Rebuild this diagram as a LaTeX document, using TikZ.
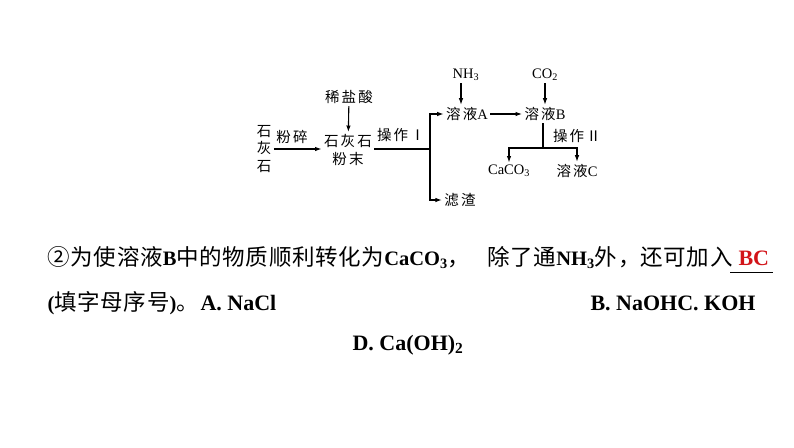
\documentclass[tikz,border=0pt]{standalone}
\usepackage{fontspec}
\setmainfont{Liberation Serif}
\newfontfamily\cjk[LetterSpace=3]{Noto Sans CJK SC}
\newfontfamily\cjksp[LetterSpace=15]{Noto Sans CJK SC}
\usepackage{xcolor}
\usepackage{tikz}
\usetikzlibrary{arrows.meta,positioning}
\definecolor{ansred}{RGB}{210,20,25}
\newcommand\latn[1]{{\rmfamily #1}}
\newcommand\lb[1]{{\fontsize{20.5}{26}\selectfont\rmfamily\bfseries #1}}

\begin{document}
\begin{tikzpicture}[x=1pt, y=-1pt, line width=1.1pt,
                    >={Latex[length=6.5pt,width=4.5pt]},
                    lbl/.style={font=\fontsize{14.5}{17.5}\selectfont\cjksp,
                    inner sep=2pt, align=center},
                    txt/.style={font=\fontsize{22.5}{26}\selectfont\cjk,
                    inner sep=0pt, anchor=base west},
                    ltn/.style={font=\fontsize{22}{26}\selectfont\bfseries,
                    inner sep=0pt, anchor=base west}]
\useasboundingbox (0,0) rectangle (794,447);

% flow chart
\node[lbl] (shi) at (264,149) {石\\灰\\石};
\node[lbl] (fenmo) at (348,150) {石灰石\\粉末};
\node[lbl] (xys) at (349,97) {稀盐酸};
\node[lbl] (fensui) at (292,137) {粉碎};
\node[lbl] (op1) at (401,135) {操作Ⅰ};
\node[lbl] (rongA) at (467,114) {溶液\latn{A}};
\node[lbl] (rongB) at (545,114) {溶液\latn{B}};
\node[lbl] (nh3) at (466,75) {\latn{NH\textsubscript{3}}};
\node[lbl] (co2) at (545,75) {\latn{CO\textsubscript{2}}};
\node[lbl] (op2) at (577,136) {操作Ⅱ};
\node[lbl] (caco3) at (509,171) {\latn{CaCO\textsubscript{3}}};
\node[lbl] (rongC) at (577,171) {溶液\latn{C}};
\node[lbl] (lvzha) at (460,200) {滤渣};
\coordinate (br1) at (430,149);
\coordinate (br2) at (543,148);

\draw[->] (shi.east) -- (shi.east -| fenmo.west);
\draw[->] (xys) -- (fenmo);
\draw (fenmo.east |- br1) -- (br1);
\draw[->] (br1) |- (rongA);
\draw[->] (br1) |- (lvzha);
\draw[->] (rongA) -- (rongB);
\draw[->] ([xshift=-5pt]nh3.south) -- ([xshift=-5pt]nh3.south |- rongA.north);
\draw[->] (co2) -- (rongB);
\draw (rongB.south -| br2) -- (br2);
\draw[->] (br2) -| (caco3);
\draw[->] (br2) -| (rongC);

% question
\node[txt] (q1a) at (47,265.5) {②为使溶液\lb{B}中的物质顺利转化为\lb{CaCO\textsubscript{3}}，};
\node[txt] (q1b) at (487,265.5) {除了通\lb{NH\textsubscript{3}}外，};
\node[txt] (q1c) at (640,265.5) {还可加入};
\node[ltn, text=ansred] (ans) at (738,265.5) {BC};
\draw[line width=1.2pt] ([xshift=-8pt,yshift=-6.5pt]ans.south west)
                     -- ([xshift=3pt,yshift=-6.5pt]ans.south east);
\node[txt] (q2a) at (47,310) {\lb{(}填字母序号\lb{)}。};
\node[ltn] (q2b) at (200,310) {A. NaCl};
\node[ltn] (q2c) at (590,310) {B. NaOHC. KOH};
\node[ltn] (q3) at (352,350) {D. Ca(OH)\textsubscript{2}};
\end{tikzpicture}
\end{document}
